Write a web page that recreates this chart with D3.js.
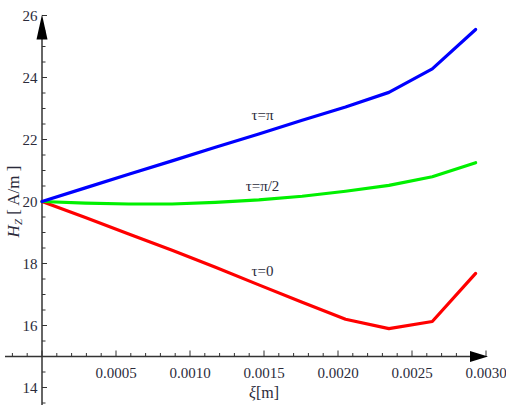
<!DOCTYPE html>
<html><head><meta charset="utf-8">
<script src="https://cdn.jsdelivr.net/npm/d3@7/dist/d3.min.js"></script>
<style>html,body{margin:0;padding:0;background:#fff;}svg{display:block;}</style>
</head><body>
<script>
const xi = [0, 0.000293, 0.000586, 0.000879, 0.001172, 0.001465, 0.001758, 0.002051, 0.002344, 0.002637, 0.00293];
const tau0 = [20, 19.48, 18.95, 18.43, 17.88, 17.31, 16.75, 16.2, 15.9, 16.13, 17.68];
const tauPi2 = [20, 19.95, 19.92, 19.92, 19.97, 20.05, 20.17, 20.33, 20.52, 20.8, 21.25];
const tauPi = [20, 20.44, 20.88, 21.31, 21.75, 22.18, 22.62, 23.05, 23.52, 24.28, 25.55];
const seriesNames = ["τ=0", "τ=π/2", "τ=π"];
const seriesColors = ["#ff0000", "#00f000", "#0000ff"];
const xTicks = [0.0005, 0.0010, 0.0015, 0.0020, 0.0025, 0.0030];
const xTickLabels = ["0.0005", "0.0010", "0.0015", "0.0020", "0.0025", "0.0030"];
const yTicks = [14, 16, 18, 20, 22, 24, 26];

const W = 506, H = 405;
const svg = d3.select("body").append("svg").attr("width", W).attr("height", H);
const x = d3.scaleLinear().domain([0, 0.003]).range([42, 486]);
const y = d3.scaleLinear().domain([14, 26]).range([387.5, 15.5]);
const axisColor = "#333";
const textColor = "#2b2b3b";
const font = "'Liberation Serif', 'Times New Roman', serif";

// x axis line
const ax0 = y(15);
svg.append("line").attr("x1", 5).attr("x2", 478).attr("y1", ax0).attr("y2", ax0)
  .attr("stroke", axisColor).attr("stroke-width", 1.5);
const xMinor = d3.range(-2, 31).map(i => i * 0.0001);
svg.selectAll(".xt").data(xMinor).enter().append("line")
  .attr("x1", d => x(d)).attr("x2", d => x(d))
  .attr("y1", ax0).attr("y2", (d, i) => ((i - 2) % 5 === 0) ? ax0 - 6 : ax0 - 3.5)
  .attr("stroke", axisColor).attr("stroke-width", 1);
svg.selectAll(".xl").data(xTicks).enter().append("text")
  .attr("x", d => x(d)).attr("y", 377.5)
  .attr("text-anchor", "middle").attr("font-family", font).attr("font-size", 15)
  .attr("fill", textColor).text((d, i) => xTickLabels[i]);
svg.append("path").attr("d", `M${x(0.003)+2},${ax0} L${x(0.003)-16},${ax0-5.5} L${x(0.003)-16},${ax0+5.5} Z`).attr("fill", "#000");

// y axis line
const ay0 = x(0);
svg.append("line").attr("x1", ay0).attr("x2", ay0).attr("y1", 35).attr("y2", 405)
  .attr("stroke", axisColor).attr("stroke-width", 1.5);
const yMinor = d3.range(27, 53).map(i => i * 0.5);
svg.selectAll(".yt").data(yMinor).enter().append("line")
  .attr("x1", ay0).attr("x2", d => (d % 2 === 0) ? ay0 + 5 : ay0 + 3.5)
  .attr("y1", d => y(d)).attr("y2", d => y(d))
  .attr("stroke", axisColor).attr("stroke-width", 1);
svg.selectAll(".yl").data(yTicks).enter().append("text")
  .attr("x", 37.5).attr("y", d => y(d) + 5.5)
  .attr("text-anchor", "end").attr("font-family", font).attr("font-size", 15)
  .attr("fill", textColor).text(d => d);
svg.append("path").attr("d", `M${ay0},${y(26)-1} L${ay0-5.5},${y(26)+24} L${ay0+5.5},${y(26)+24} Z`).attr("fill", "#000");

// lines
const line = d3.line().x((d, i) => x(xi[i])).y(d => y(d));
[tau0, tauPi2, tauPi].forEach((s, k) => {
  svg.append("path").datum(s).attr("d", line)
    .attr("fill", "none").attr("stroke", seriesColors[k]).attr("stroke-width", 3.2)
    .attr("stroke-linejoin", "round").attr("stroke-linecap", "round");
});

// labels on curves
const labelPos = [[0.00149, 17.6], [0.00149, 20.35], [0.00149, 22.62]];
labelPos.forEach((p, k) => {
  svg.append("text").attr("x", x(p[0])).attr("y", y(p[1]))
    .attr("text-anchor", "middle").attr("font-family", font).attr("font-size", 15)
    .attr("fill", textColor).text(seriesNames[k]);
});

// axis titles
svg.append("text").attr("x", x(0.0015)).attr("y", 398)
  .attr("text-anchor", "middle").attr("font-family", font).attr("font-size", 16)
  .attr("fill", textColor)
  .call(t => { t.append("tspan").attr("font-style", "italic").text("ξ"); t.append("tspan").text("[m]"); });
const yt = svg.append("text").attr("transform", `translate(19,${y(20)}) rotate(-90)`)
  .attr("text-anchor", "middle").attr("font-family", font).attr("font-size", 17)
  .attr("fill", textColor);
yt.append("tspan").attr("font-style", "italic").text("H");
yt.append("tspan").attr("font-style", "italic").attr("font-size", 11).attr("dy", 3).text("Z");
yt.append("tspan").attr("dy", -3).text(" [ A/m ]");
</script>
</body></html>
